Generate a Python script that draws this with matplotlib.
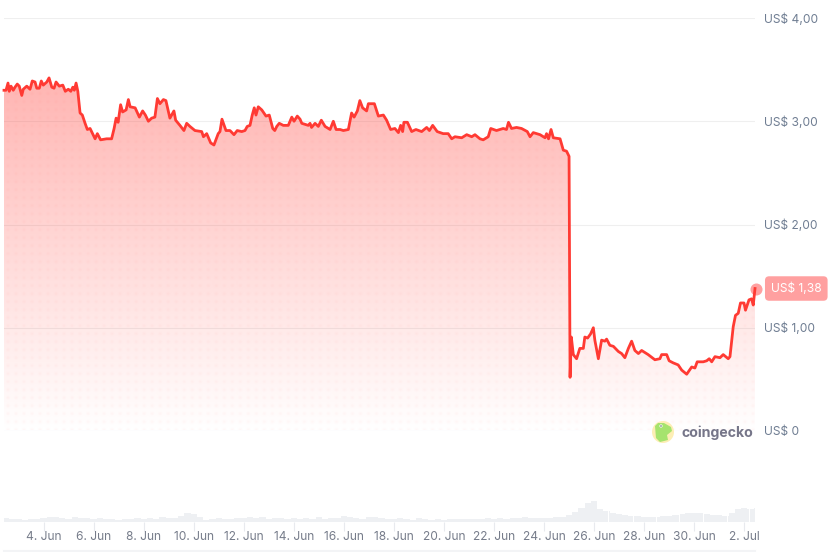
import numpy as np
import matplotlib
matplotlib.use('Agg')
import matplotlib.pyplot as plt
from matplotlib.patches import Circle, Polygon

plt.rcParams['font.family'] = ['Inter', 'DejaVu Sans']

# day of june (31 = 1 jul, 32 = 2 jul)
days = [2.42,2.50,2.58,2.63,2.70,2.79,2.86,2.95,3.03,3.13,3.19,3.33,3.46,3.55,3.66,3.73,3.83,3.91,3.99,4.13,
        4.22,4.33,4.42,4.50,4.63,4.77,4.87,4.99,5.09,5.17,5.23,5.30,5.37,5.46,5.55,5.66,5.75,5.86,6.06,6.15,
        6.28,6.52,6.72,6.82,6.90,6.98,7.08,7.16,7.30,7.39,7.46,7.66,7.83,7.96,8.07,8.19,8.32,8.45,8.55,8.65,
        8.79,8.89,9.05,9.21,9.28,9.45,9.61,9.72,9.85,10.05,10.32,10.39,10.52,10.68,10.81,10.98,11.05,11.13,11.29,11.45,
        11.61,11.74,11.92,12.05,12.14,12.25,12.34,12.42,12.49,12.58,12.72,12.89,13.02,13.16,13.24,13.32,13.42,13.58,13.78,13.92,
        14.01,14.14,14.25,14.32,14.58,14.65,14.71,14.85,14.98,15.10,15.25,15.45,15.58,15.69,15.85,15.98,16.18,16.31,16.41,16.54,
        16.64,16.75,16.91,16.98,17.22,17.38,17.58,17.71,17.87,18.04,18.18,18.27,18.35,18.40,18.54,18.71,18.88,19.11,19.31,19.42,
        19.55,19.73,19.97,20.17,20.31,20.44,20.71,20.91,21.11,21.24,21.44,21.57,21.77,21.87,22.10,22.37,22.50,22.58,22.70,22.90,
        23.10,23.33,23.44,23.57,23.84,24.04,24.10,24.18,24.28,24.37,24.64,24.77,24.90,25.00,25.04,25.09,25.17,25.30,25.43,25.57,
        25.63,25.74,25.86,25.97,26.03,26.17,26.30,26.43,26.50,26.63,26.77,26.97,27.10,27.23,27.37,27.50,27.63,27.77,27.90,28.16,
        28.43,28.63,28.70,28.90,29.00,29.16,29.36,29.50,29.70,29.90,30.03,30.12,30.36,30.50,30.60,30.70,30.83,31.03,31.16,31.36,
        31.43,31.56,31.65,31.76,31.85,31.99,32.05,32.19,32.29,32.36,32.43]
prices = [3.30,3.30,3.37,3.29,3.34,3.30,3.33,3.36,3.34,3.25,3.31,3.34,3.31,3.39,3.38,3.32,3.32,3.39,3.35,3.38,
          3.42,3.33,3.32,3.38,3.34,3.35,3.29,3.31,3.29,3.33,3.30,3.37,3.29,3.08,3.06,2.98,2.92,2.93,2.83,2.88,
          2.82,2.83,2.83,2.93,3.03,2.99,3.16,3.09,3.11,3.21,3.14,3.13,3.04,3.10,3.06,3.00,3.03,3.04,3.22,3.17,
          3.21,3.20,3.03,3.10,3.01,2.96,2.91,2.98,2.95,2.91,2.90,2.85,2.88,2.79,2.77,2.88,2.90,3.02,2.91,2.91,
          2.87,2.91,2.90,2.91,2.95,2.96,3.06,3.13,3.06,3.14,3.11,3.05,3.06,2.93,2.91,2.95,2.98,2.96,2.96,3.04,
          3.00,3.05,3.02,2.98,2.96,2.98,2.94,2.98,2.95,3.01,2.95,2.92,3.00,2.92,2.92,2.91,2.92,3.08,3.04,3.10,
          3.20,3.13,3.10,3.17,3.17,3.05,3.06,3.01,2.92,2.93,2.89,2.96,2.90,2.99,2.99,2.90,2.92,2.90,2.94,2.91,
          2.96,2.90,2.88,2.88,2.83,2.85,2.84,2.87,2.85,2.87,2.83,2.82,2.85,2.93,2.91,2.93,2.92,2.99,2.93,2.94,
          2.93,2.90,2.85,2.89,2.87,2.84,2.88,2.83,2.92,2.84,2.83,2.72,2.71,2.66,0.52,0.91,0.74,0.70,0.80,0.80,
          0.91,0.90,0.94,1.00,0.88,0.70,0.88,0.87,0.89,0.83,0.82,0.77,0.75,0.71,0.80,0.87,0.78,0.75,0.78,0.74,
          0.69,0.70,0.74,0.74,0.68,0.66,0.64,0.59,0.55,0.62,0.61,0.67,0.67,0.68,0.70,0.67,0.72,0.71,0.74,0.70,
          0.72,1.01,1.12,1.14,1.24,1.24,1.17,1.27,1.28,1.22,1.38]

# volume, one value per quarter day from 2.5 on
volumes = [4,3,3,2,3,3,
           4,5,5,4,3,5,4,4,
           3,4,3,3,2,3,3,4,
           3,4,3,5,4,4,6,9,
           8,5,2,3,4,3,3,4,
           4,5,4,5,3,4,4,3,
           4,3,4,3,5,3,4,4,
           6,5,4,3,5,5,4,3,
           3,4,3,2,4,3,2,3,
           2,3,3,3,3,3,3,4,
           3,4,3,4,4,5,4,4,
           4,4,5,5,
           7,10,14,19,21,13,11,9,7.5,6.5,5.5,5.3,5.2,5,5,5.5,5.8,6.5,7.8,8.7,9,
           8.6,8,7,6.5,6,8.5,12.5,14,13,14]
vol_start = 2.5
vol_gaps = [26.57, 27.57, 28.47, 29.4, 30.36, 31.3, 32.2]

price_ticks = [0, 1, 2, 3, 4]
price_labels = ['US$ 0', 'US$ 1,00', 'US$ 2,00', 'US$ 3,00', 'US$ 4,00']
date_ticks = [4, 6, 8, 10, 12, 14, 16, 18, 20, 22, 24, 26, 28, 30, 32]
date_labels = ['4. Jun', '6. Jun', '8. Jun', '10. Jun', '12. Jun', '14. Jun', '16. Jun', '18. Jun',
               '20. Jun', '22. Jun', '24. Jun', '26. Jun', '28. Jun', '30. Jun', '2. Jul']
last_label = 'US$ 1,38'

W, H = 831, 552
RED = '#ff3a33'
BADGE = '#ffa0a0'
AXIS_TXT = '#6f7d92'
GREY_TXT = '#767c8a'
FONT = 8.64

fig = plt.figure(figsize=(W / 100, H / 100), dpi=100, facecolor='white')

def px_axes(x0, x1, y0, y1):
    return fig.add_axes([x0 / W, (H - y1) / H, (x1 - x0) / W, (y1 - y0) / H])

xlim = (2.42, 32.43)

# price chart
ax = px_axes(4, 755, 18, 431)
ax.set_xlim(xlim)
ax.set_ylim(0, 4)
ax.patch.set_alpha(0)
for s in ax.spines.values():
    s.set_visible(False)
ax.set_axisbelow(True)
ax.grid(axis='y', color='#efefef', lw=0.8)
ax.get_ygridlines()[0].set_color('#e3e6ee')
ax.set_xticks([])
ax.yaxis.tick_right()
ax.set_yticks(price_ticks)
ax.set_yticklabels(price_labels, fontsize=FONT, color=AXIS_TXT)
ax.tick_params(axis='y', length=0, pad=6.5)

# gradient + dot pattern, clipped under the line
rows, cols = 413, 751
yy, xx = np.mgrid[0:rows, 0:cols]
ypx = yy + 18.5
xpx = xx + 4.5
depth = np.clip((431 - ypx) / 345, 0, 1)
alpha = 0.37 * depth
dx = (xpx + 4) % 8 - 4
dy = (ypx - 1.7) % 8 - 4
dots = np.exp(-(dx ** 2 + dy ** 2) / 3.0)
alpha = np.clip(alpha + dots * (0.035 - 0.01 * depth), 0, 1)
alpha[ypx > 429.5] = 0
img = np.zeros((rows, cols, 4))
img[..., 0] = 1.0
img[..., 1] = 0x3a / 255
img[..., 2] = 0x33 / 255
img[..., 3] = alpha
fill = ax.fill_between(days, prices, 0, color='none', lw=0)
im = ax.imshow(img, extent=(xlim[0], xlim[1], 0, 4), origin='upper', aspect='auto',
               interpolation='bilinear', zorder=1)
im.set_clip_path(fill.get_paths()[0], transform=ax.transData)
ax.set_xlim(xlim)
ax.set_ylim(0, 4)

ax.plot(days, prices, color=RED, lw=2.0, solid_joinstyle='round', zorder=3, clip_on=False)
ax.scatter(days[-1] + 0.05, prices[-1], s=75, color=BADGE, lw=0, zorder=2, clip_on=False)
ax.annotate(last_label, xy=(days[-1], prices[-1]), xytext=(11.5, 0), textcoords='offset points',
            va='center', ha='left', color='white', fontsize=FONT, annotation_clip=False,
            bbox=dict(boxstyle='round,pad=0.5,rounding_size=0.35', fc=BADGE, ec='none'))

# volume
vax = px_axes(4, 755, 480, 521.7)
vax.set_xlim(xlim)
vax.set_ylim(0, 41.7)
vax.patch.set_alpha(0)
for s in vax.spines.values():
    s.set_visible(False)
vol_days = vol_start + 0.25 * np.arange(len(volumes))
vax.bar(vol_days, volumes, width=0.25, color='#eef0f3', lw=0)
vax.vlines(vol_gaps, 0, 30, color='white', lw=0.8)
vax.set_yticks([])
vax.set_xticks(date_ticks)
vax.set_xticklabels(date_labels, fontsize=FONT, color=GREY_TXT)
vax.tick_params(axis='x', length=6.5, width=0.8, color='#e8eaee', pad=0)

# navigator strip and logo
over = fig.add_axes([0, 0, 1, 1])
over.set_xlim(0, W)
over.set_ylim(H, 0)
over.axis('off')
over.patch.set_alpha(0)
over.plot([4, 755], [551, 551], color='#f3f4f6', lw=1.5)
over.add_patch(Circle((663, 432), 11, fc='#fdeeb5', ec='none'))
over.add_patch(Polygon([(655, 426), (658, 423), (664, 423), (671, 427), (672, 431), (667, 435),
                        (668, 440), (660, 442), (656, 438)], closed=True, fc='#a6e36e', ec='none'))
over.add_patch(Circle((661, 426), 1.6, fc='white', ec='none'))
over.add_patch(Circle((661, 426), 0.8, fc='#6b6b7d', ec='none'))
over.text(681, 432.5, 'coingecko', fontsize=10.2, fontweight='bold', color='#767689',
          va='center', ha='left', family=['Inter', 'DejaVu Sans'])

fig.savefig('out.png', dpi=100)
